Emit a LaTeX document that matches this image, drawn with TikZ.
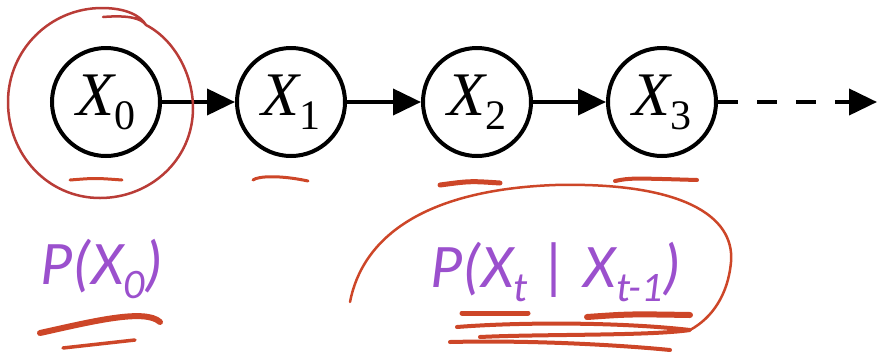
\documentclass[tikz,border=0pt]{standalone}
\usepackage{fontspec}
\newfontfamily\carlito{Carlito}
\newfontfamily\tnr{Liberation Serif}
\usetikzlibrary{arrows.meta}
\definecolor{lilac}{RGB}{155,80,205}
\definecolor{pen}{RGB}{205,70,40}
\definecolor{penring}{RGB}{185,60,55}
\newcommand{\sbs}[1]{\raisebox{-14pt}{\fontsize{42}{42}\selectfont #1}}
\begin{document}
\begin{tikzpicture}[x=1pt,y=-1pt,
  var/.style={circle,draw,line width=4pt,minimum size=108pt,inner sep=0pt,font=\fontsize{62}{62}\selectfont\tnr},
  arr/.style={line width=4pt,-{Triangle[length=28pt,width=26pt]}},
  prob/.style={text=lilac,font=\fontsize{62}{62}\selectfont\carlito\itshape,anchor=base west,inner sep=0pt},
  ink/.style={pen,line cap=round,line join=round}]
\useasboundingbox (0,0) rectangle (877,354);
\foreach \i/\x in {0/106,1/291,2/477,3/662} \node[var] (x\i) at (\x,102) {\textit{X}\kern-2pt\sbs{\i}};
\foreach \i/\j in {0/1,1/2,2/3} \draw[arr] (x\i) -- (x\j);
\coordinate (more) at (877,102);
\draw[arr,dash pattern=on 20pt off 19pt] (x3) -- (more);
\node[prob] (p0) at (40,284) {P(X\sbs{0})};
\node[prob] (pt) at (430,287) {P(X\sbs{t} | X\sbs{t-1})};
\draw[ink,penring,line width=2.5pt] (103,17) .. controls (128,15) and (141,18) .. (146,25)
  .. controls (175,40) and (193,75) .. (193,108) .. controls (193,160) and (150,198) .. (100,198)
  .. controls (48,198) and (8,155) .. (8,102) .. controls (8,50) and (50,8) .. (102,8)
  .. controls (125,8) and (140,15) .. (146,25);
\draw[ink,line width=3pt] (70,180) .. controls (95,178) .. (122,180);
\draw[ink,line width=3pt] (253,180) .. controls (258,176) and (280,175) .. (308,181);
\draw[ink,line width=5pt] (440,185) .. controls (470,181) .. (500,183);
\draw[ink,line width=4pt] (615,181) .. controls (630,178) .. (697,180);
\draw[ink,line width=6pt] (40,333) .. controls (90,322) and (145,308) .. (160,322);
\draw[ink,line width=3.5pt] (63,348) -- (135,340);
\draw[ink,line width=2.5pt] (350,302) .. controls (362,240) and (420,190) .. (555,185)
  .. controls (680,182) and (735,215) .. (731,262) .. controls (728,295) and (712,318) .. (690,330)
  .. controls (620,322) and (520,322) .. (457,327);
\draw[ink,line width=5pt] (462,313) -- (528,313);
\draw[ink,line width=6pt] (587,317) .. controls (630,314) .. (690,315);
\draw[ink,line width=4pt] (457,327) .. controls (520,322) and (620,322) .. (690,330)
  .. controls (650,336) and (540,334) .. (480,337);
\draw[ink,line width=4pt] (450,342) .. controls (530,340) and (620,345) .. (670,350);
\end{tikzpicture}
\end{document}
